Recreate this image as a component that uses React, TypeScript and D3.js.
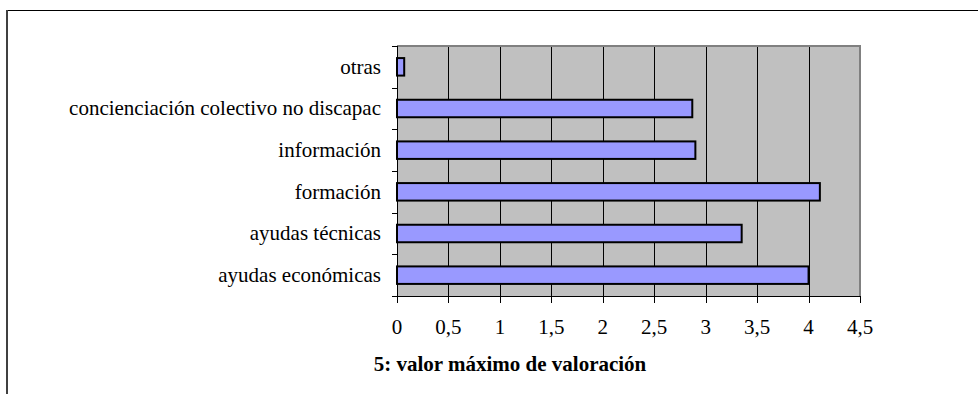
import React, { useEffect, useRef } from 'react';
import * as d3 from 'd3';

// categories top to bottom, as drawn
const categories = [
  'otras',
  'concienciación colectivo no discapac',
  'información',
  'formación',
  'ayudas técnicas',
  'ayudas económicas',
];
const values = [0.07, 2.87, 2.9, 4.11, 3.35, 4.0];
const xTicks = [0, 0.5, 1, 1.5, 2, 2.5, 3, 3.5, 4, 4.5];
const axisTitle = '5: valor máximo de valoración';

function ValoracionChart() {
  const svgRef = useRef<SVGSVGElement>(null);

  useEffect(() => {
    const svg = d3.select(svgRef.current);
    svg.selectAll('*').remove();

    const left = 397, right = 860, top = 46, bottom = 296;
    const font = 'Liberation Serif, Times New Roman, serif';

    const x = d3.scaleLinear().domain([0, 4.5]).range([left, right]);
    const y = d3.scaleBand<string>()
      .domain(categories)
      .range([top, bottom])
      .paddingInner(0.58)
      .paddingOuter(0.29);
    const step = y.step();

    // outer frame (top + left only visible)
    svg.append('line').attr('x1', 7).attr('x2', 978).attr('y1', 10.5).attr('y2', 10.5)
      .attr('stroke', '#000').attr('stroke-width', 1);
    svg.append('line').attr('x1', 7).attr('x2', 7).attr('y1', 10).attr('y2', 394)
      .attr('stroke', '#404040').attr('stroke-width', 2);

    // plot background
    svg.append('rect').attr('x', left).attr('y', top)
      .attr('width', right - left).attr('height', bottom - top)
      .attr('fill', '#c0c0c0');

    // vertical gridlines
    svg.append('g').selectAll('line')
      .data(xTicks.filter(t => t > 0 && t < 4.5))
      .enter().append('line')
      .attr('x1', d => Math.round(x(d)) + 0.5).attr('x2', d => Math.round(x(d)) + 0.5)
      .attr('y1', top).attr('y2', bottom)
      .attr('stroke', '#000').attr('stroke-width', 1);

    // plot border top/right (gray)
    svg.append('path')
      .attr('d', `M${left},${top} H${right} V${bottom}`)
      .attr('fill', 'none').attr('stroke', '#808080').attr('stroke-width', 2);

    // bars
    svg.append('g').selectAll('rect')
      .data(values)
      .enter().append('rect')
      .attr('x', x(0))
      .attr('y', (d, i) => y(categories[i]) as number)
      .attr('width', d => x(d) - x(0))
      .attr('height', y.bandwidth())
      .attr('fill', '#9999ff')
      .attr('stroke', '#000')
      .attr('stroke-width', 2);

    // axes lines
    svg.append('line').attr('x1', left + 0.5).attr('x2', left + 0.5).attr('y1', top).attr('y2', bottom + 1)
      .attr('stroke', '#000').attr('stroke-width', 1);
    svg.append('line').attr('x1', left).attr('x2', right).attr('y1', bottom + 0.5).attr('y2', bottom + 0.5)
      .attr('stroke', '#000').attr('stroke-width', 1);

    // y ticks at category boundaries
    const yBounds = d3.range(categories.length + 1).map(i => top + i * step);
    svg.append('g').selectAll('line')
      .data(yBounds)
      .enter().append('line')
      .attr('x1', left - 5).attr('x2', left)
      .attr('y1', d => Math.round(d) + 0.5).attr('y2', d => Math.round(d) + 0.5)
      .attr('stroke', '#000');

    // x ticks
    svg.append('g').selectAll('line')
      .data(xTicks)
      .enter().append('line')
      .attr('x1', d => Math.round(x(d)) + 0.5).attr('x2', d => Math.round(x(d)) + 0.5)
      .attr('y1', bottom).attr('y2', bottom + 7)
      .attr('stroke', '#000');

    // x tick labels
    svg.append('g').selectAll('text')
      .data(xTicks)
      .enter().append('text')
      .attr('x', d => x(d))
      .attr('y', 334)
      .attr('text-anchor', 'middle')
      .attr('font-family', font)
      .attr('font-size', 21)
      .text(d => String(d).replace('.', ','));

    // category labels
    svg.append('g').selectAll('text')
      .data(categories)
      .enter().append('text')
      .attr('x', 381)
      .attr('y', d => (y(d) as number) + y.bandwidth() / 2)
      .attr('dy', '0.32em')
      .attr('text-anchor', 'end')
      .attr('font-family', font)
      .attr('font-size', 21)
      .text(d => d);

    // axis title
    svg.append('text')
      .attr('x', 510)
      .attr('y', 371)
      .attr('text-anchor', 'middle')
      .attr('font-family', font)
      .attr('font-size', 21)
      .attr('font-weight', 'bold')
      .text(axisTitle);
  }, []);

  return (
    <svg ref={svgRef} width={978} height={394}
      style={{ position: 'absolute', left: 0, top: 0, background: '#fff' }}></svg>
  );
}

export default function App() {
  return <ValoracionChart />;
}
